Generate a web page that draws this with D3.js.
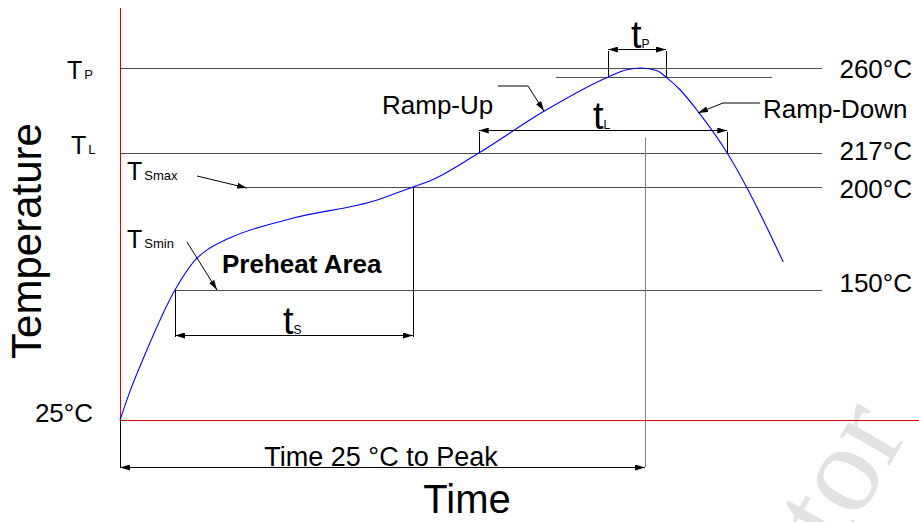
<!DOCTYPE html>
<html lang="en">
<head>
<meta charset="UTF-8">
<title>Reflow Profile</title>
<script src="https://d3js.org/d3.v7.min.js"></script>
<style>
  body { margin: 0; background: #fff; }
  svg { display: block; font-family: "Liberation Sans", Arial, sans-serif; }
  .level { stroke: #4d4d4d; stroke-width: 1px; shape-rendering: crispEdges; }
  .dim { stroke: #000; stroke-width: 1px; fill: none; }
  .straight { shape-rendering: crispEdges; }
  .lbl { font-size: 26px; fill: #000; }
</style>
</head>
<body>
<svg id="chart"></svg>
<script>
const width = 919, height = 522;

// reflow profile: time (s) and temperature (°C)
const profileTime = [0, 6, 13, 31.4, 44, 49, 62, 97, 147, 167.4, 177, 205, 242, 279, 289, 298, 307, 312, 320, 331, 347, 358, 367, 379];
const profileTemp = [25, 54, 83, 150, 165.5, 169, 175, 184.5, 193.7, 200, 203, 217, 238, 255.5, 259, 260, 258.6, 255.4, 249, 237.2, 217, 200, 185, 163.6];

// reference temperature levels
const levelTemps = [260, 217, 200, 150];
const levelLabels = ["260°C", "217°C", "200°C", "150°C"];
const levelStarts = [0, 0, 72.6, 31.4];
const levelEnd = 401;

const peakTime = 300;
const tsRange = [31.4, 167.4];
const tlRange = [205, 347];
const tpRange = [279, 312];
const tpTemp = 255.5;
const tpBand = [249, 372.6];

const svg = d3.select("#chart")
    .attr("width", width)
    .attr("height", height);

// schematic (non linear) temperature axis
const x = d3.scaleLinear().domain([0, 300]).range([120, 645]);
const y = d3.scaleLinear().domain([25, 150, 200, 217, 260]).range([420, 290, 187, 153, 68]);

const defs = svg.append("defs");
defs.append("marker")
    .attr("id", "arrow")
    .attr("viewBox", "0 0 10 6")
    .attr("refX", 10).attr("refY", 3)
    .attr("markerWidth", 10).attr("markerHeight", 6)
    .attr("markerUnits", "userSpaceOnUse")
    .attr("orient", "auto-start-reverse")
    .append("path")
    .attr("d", "M0,0L10,3L0,6Z")
    .attr("fill", "#000");

// watermark
svg.append("text")
    .attr("transform", "translate(812,600) rotate(-60)")
    .attr("font-family", "Liberation Serif, serif")
    .attr("font-size", 125)
    .attr("fill", "#e2e2e2")
    .text("ctor");

const px = v => Math.round(v) + 0.5;

// level lines
levelTemps.forEach((t, i) => {
    svg.append("line").attr("class", "level")
        .attr("x1", x(levelStarts[i])).attr("x2", x(levelEnd))
        .attr("y1", px(y(t))).attr("y2", px(y(t)));
    svg.append("text").attr("class", "lbl")
        .attr("x", 912)
        .attr("y", [78, 160, 198, 292][i])
        .attr("text-anchor", "end")
        .text(levelLabels[i]);
});

// tP band line
svg.append("line").attr("class", "level")
    .attr("x1", x(tpBand[0])).attr("x2", x(tpBand[1]))
    .attr("y1", px(y(tpTemp))).attr("y2", px(y(tpTemp)));

// peak marker line
svg.append("line").attr("class", "straight")
    .attr("stroke", "#808080")
    .attr("x1", px(x(peakTime))).attr("x2", px(x(peakTime)))
    .attr("y1", y(217) - 15).attr("y2", 467);

// axes (red)
svg.append("line").attr("class", "straight")
    .attr("stroke", "#e00000")
    .attr("x1", px(x(0))).attr("x2", px(x(0)))
    .attr("y1", 8).attr("y2", y(25));
svg.append("line").attr("class", "straight")
    .attr("stroke", "#e00000")
    .attr("x1", x(0)).attr("x2", width)
    .attr("y1", px(y(25))).attr("y2", px(y(25)));
svg.append("line").attr("class", "straight dim")
    .attr("x1", px(x(0))).attr("x2", px(x(0)))
    .attr("y1", y(25)).attr("y2", 467);

// dimension helper
function dimension(t0, t1, yy, top0, top1) {
    svg.append("line").attr("class", "straight").attr("stroke", "#000")
        .attr("x1", px(x(t0))).attr("x2", px(x(t0)))
        .attr("y1", top0).attr("y2", yy + 2);
    svg.append("line").attr("class", "straight").attr("stroke", "#000")
        .attr("x1", px(x(t1))).attr("x2", px(x(t1)))
        .attr("y1", top1).attr("y2", yy + 2);
    svg.append("line").attr("class", "dim")
        .attr("x1", x(t0)).attr("x2", x(t1))
        .attr("y1", px(yy)).attr("y2", px(yy))
        .attr("marker-start", "url(#arrow)")
        .attr("marker-end", "url(#arrow)");
}

// ts
dimension(tsRange[0], tsRange[1], 335, y(150), y(200));
const ts = svg.append("text").attr("x", 283).attr("y", 334);
ts.append("tspan").attr("font-size", 38).text("t");
ts.append("tspan").attr("font-size", 12).text("S");

// tL
dimension(tlRange[0], tlRange[1], 130, y(217), y(217));
const tl = svg.append("text").attr("x", 593).attr("y", 129);
tl.append("tspan").attr("font-size", 38).text("t");
tl.append("tspan").attr("font-size", 12).text("L");

// tP
dimension(tpRange[0], tpRange[1], 49, y(tpTemp), y(tpTemp));
const tp = svg.append("text").attr("x", 631).attr("y", 48);
tp.append("tspan").attr("font-size", 38).text("t");
tp.append("tspan").attr("font-size", 12).text("P");

// time 25 °C to peak
svg.append("line").attr("class", "dim")
    .attr("x1", x(0)).attr("x2", x(peakTime))
    .attr("y1", 467.5).attr("y2", 467.5)
    .attr("marker-start", "url(#arrow)")
    .attr("marker-end", "url(#arrow)");
svg.append("text")
    .attr("x", 381).attr("y", 466)
    .attr("text-anchor", "middle")
    .attr("font-size", 27)
    .text("Time 25 °C to Peak");

// profile curve
const line = d3.line()
    .x((d, i) => x(profileTime[i]))
    .y(d => y(d))
    .curve(d3.curveMonotoneX);
svg.append("path")
    .attr("d", line(profileTemp))
    .attr("fill", "none")
    .attr("stroke", "#0000ff")
    .attr("stroke-width", 1.1);

// pointers
const pointer = pts => svg.append("path")
    .attr("class", "dim")
    .attr("d", d3.line()(pts))
    .attr("marker-end", "url(#arrow)");
pointer([[498, 86], [528, 86], [544, 111]]);
pointer([[760, 103], [723, 103], [698, 113]]);
pointer([[197, 176], [247, 188]]);
pointer([[187, 242], [217, 290]]);

// labels
svg.append("text").attr("class", "lbl").attr("x", 382).attr("y", 114).text("Ramp-Up");
svg.append("text").attr("class", "lbl").attr("x", 763).attr("y", 118).text("Ramp-Down");
svg.append("text").attr("class", "lbl").attr("x", 222).attr("y", 273)
    .attr("font-weight", "bold").text("Preheat Area");
svg.append("text").attr("class", "lbl").attr("x", 93).attr("y", 422)
    .attr("text-anchor", "end").text("25°C");

const sym = (xx, yy, sub) => {
    const t = svg.append("text").attr("x", xx).attr("y", yy);
    t.append("tspan").attr("font-size", 25).text("T");
    t.append("tspan").attr("font-size", 13).attr("dx", 2).text(sub);
};
sym(67, 79, "P");
sym(71, 154, "L");
sym(127, 180, "Smax");
sym(127, 248, "Smin");

// axis titles
svg.append("text")
    .attr("transform", "translate(41,241) rotate(-90)")
    .attr("text-anchor", "middle")
    .attr("font-size", 42)
    .text("Temperature");
svg.append("text")
    .attr("x", 467).attr("y", 513)
    .attr("text-anchor", "middle")
    .attr("font-size", 40)
    .text("Time");
</script>
</body>
</html>
